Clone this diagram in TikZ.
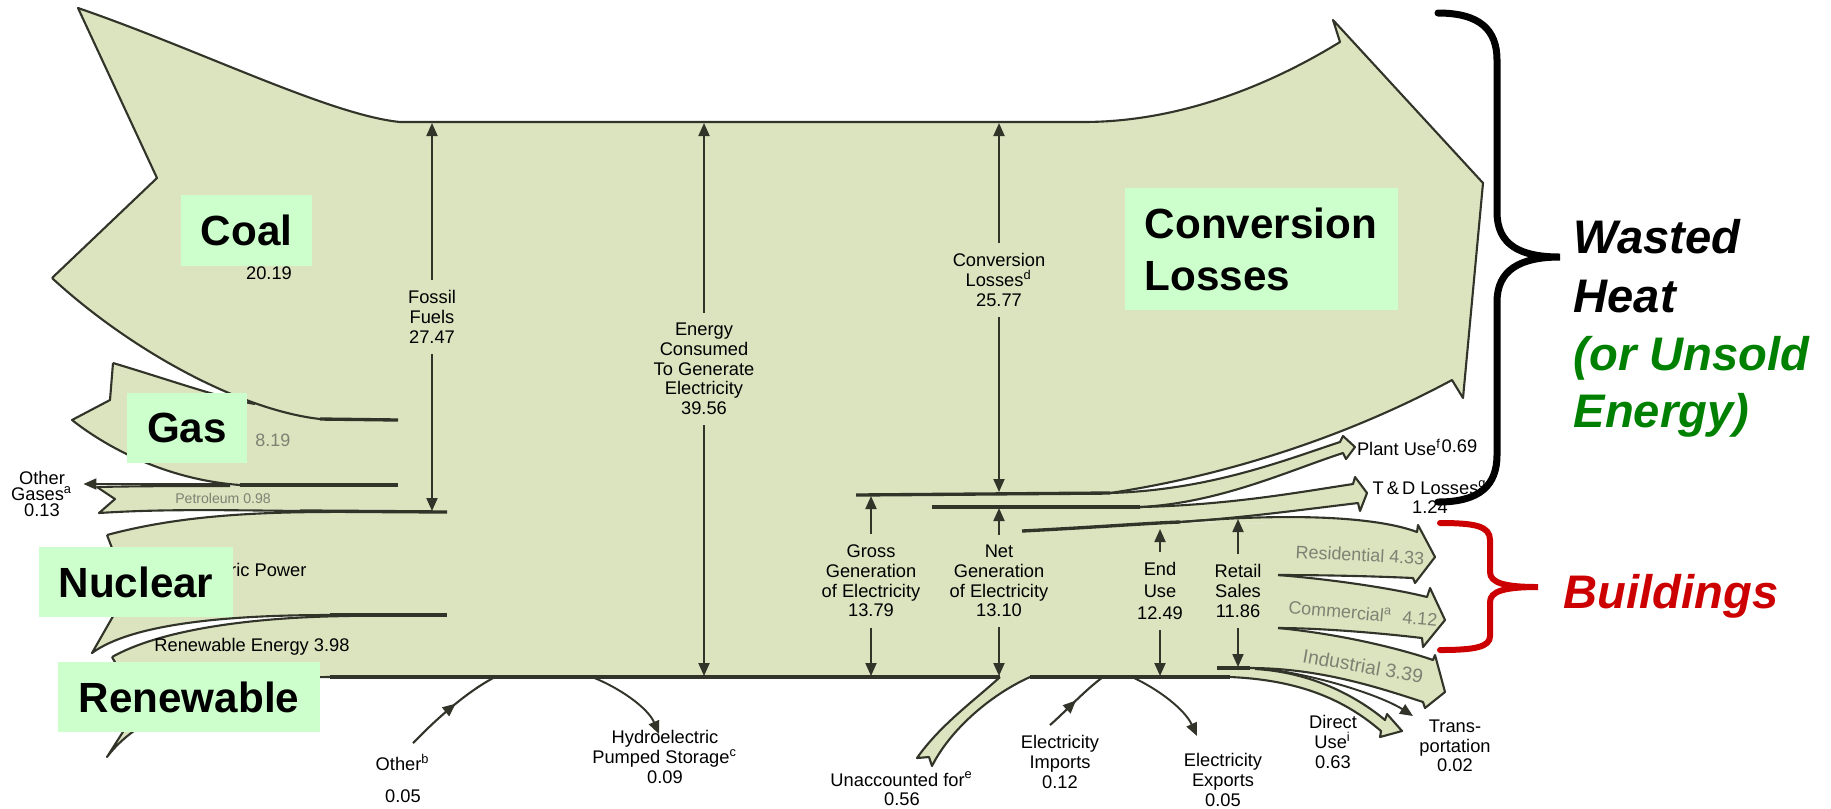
\documentclass[tikz,border=0pt]{standalone}
\usepackage{fontspec}
\setmainfont{Liberation Sans}
\usetikzlibrary{arrows.meta,decorations.markings}
\definecolor{flow}{RGB}{219,227,191}
\definecolor{lblbg}{RGB}{204,255,204}
\definecolor{edgec}{RGB}{50,52,42}
\definecolor{txtg}{RGB}{125,130,115}
\definecolor{bred}{RGB}{204,0,0}
\definecolor{bgreen}{RGB}{0,128,0}
\begin{document}
\begin{tikzpicture}[x=0.01cm,y=-0.01cm,
  edge/.style={draw=edgec,line width=0.6pt,line join=round},
  divider/.style={draw=edgec,line width=0.95pt},
  arr/.style={draw=edgec,line width=0.55pt,-{Triangle[length=1.3mm,width=1.1mm]}},
  midarr/.style={postaction={decorate},decoration={markings,mark=at position #1 with {\arrow{Triangle[length=1.3mm,width=1.1mm]}}}},
  small/.style={font=\fontsize{5.2}{5.6}\selectfont,align=center,inner sep=0pt,outer sep=3pt,text=black},
  tiny/.style={font=\fontsize{4}{4.5}\selectfont,inner sep=0pt,text=txtg},
  greyl/.style={font=\fontsize{5.1}{5.6}\selectfont,inner sep=0pt,text=txtg},
  lbl/.style={fill=lblbg,font=\fontsize{12}{14.8}\selectfont\bfseries,inner sep=0pt},
  big/.style={font=\fontsize{13.4}{16}\selectfont\bfseries\itshape,inner sep=0pt,anchor=base west}
]
\useasboundingbox (0,0) rectangle (1831,808);
\coordinate (ytop) at (0,123);
\coordinate (ybot) at (0,676);

% ---------------- fills ----------------
\fill[flow] (78,8) .. controls (200,50) and (330,115) .. (400,122) -- (400,421) -- (320,419) .. controls (240,410) and (130,350) .. (52,278) -- (157,178) -- cycle;
\fill[flow] (113,363) -- (110,400) -- (72,420) .. controls (110,450) and (170,480) .. (240,485) -- (400,485) -- (400,415) -- (320,419) -- (255,404) .. controls (220,398) and (170,380) .. (113,363) -- cycle;
\fill[flow] (97,487) .. controls (140,486) and (180,486) .. (230,486) -- (400,486) -- (400,512) -- (300,511) .. controls (220,510) and (160,509) .. (99,513) -- (115,499) -- cycle;
\fill[flow] (107,535) .. controls (170,518) and (240,512) .. (330,512) -- (400,512) -- (400,615) -- (330,615) .. controls (220,615) and (130,625) .. (92,653) -- (128,590) -- cycle;
\fill[flow] (112,657) .. controls (160,630) and (250,617) .. (350,616) -- (400,616) -- (400,677) -- (330,677) .. controls (230,677) and (140,712) .. (107,757) -- (140,705) -- cycle;
\fill[flow] (380,122) -- (1110,122) -- (1110,493) -- (1180,522) -- (1282,524) -- (1282,677) -- (380,677) -- cycle;
\fill[flow] (1000,122) -- (1083,122) .. controls (1180,122) and (1270,85) .. (1340,42) -- (1333,20) -- (1483,183) -- (1463,398) -- (1452,380) .. controls (1350,435) and (1230,475) .. (1110,493) -- (1000,493) -- cycle;
\fill[flow] (1110,493) .. controls (1210,490) and (1285,460) .. (1340,442) -- (1343,436) -- (1355,447) -- (1346,459) -- (1343,453) .. controls (1290,470) and (1220,503) .. (1140,507) -- cycle;
\fill[flow] (1140,507) .. controls (1230,505) and (1300,492) .. (1353,484) -- (1355,477) -- (1367,493) -- (1360,511) -- (1358,503) .. controls (1300,510) and (1240,518) .. (1180,522) -- cycle;
\fill[flow] (1180,522) .. controls (1300,512) and (1380,518) .. (1417,532) -- (1418,525) -- (1435,557) -- (1415,583) -- (1413,578) .. controls (1370,576) and (1320,575) .. (1278,575) -- (1278,524) -- cycle;
\fill[flow] (1278,575) .. controls (1340,580) and (1400,590) .. (1427,597) -- (1430,588) -- (1445,620) -- (1423,647) -- (1422,638) .. controls (1380,633) and (1320,628) .. (1278,628) -- cycle;
\fill[flow] (1278,628) .. controls (1350,635) and (1410,652) .. (1433,660) -- (1435,655) -- (1445,692) -- (1425,708) -- (1423,702) .. controls (1380,688) and (1320,668) .. (1250,668) -- (1250,628) -- cycle;
\fill[flow] (1255,669) .. controls (1310,672) and (1355,695) .. (1385,720) -- (1387,714) -- (1402,731) -- (1380,737) -- (1381,731) .. controls (1345,700) and (1300,680) .. (1230,677) -- cycle;
\fill[flow] (1000,677) .. controls (975,700) and (940,725) .. (917,758) -- (929,757) -- (932,766) .. controls (950,730) and (990,695) .. (1030,677) -- cycle;

% label partly hidden under the Nuclear box
\node[small,anchor=east] (nep) at (317,570) {Nuclear Electric Power};

% ---------------- edges ----------------
\draw[edge] (52,278) -- (157,178) -- (78,8) .. controls (200,50) and (330,115) .. (400,122) -- (1083,122) .. controls (1180,122) and (1270,85) .. (1340,42) -- (1333,20) -- (1483,183) -- (1463,398) -- (1452,380) .. controls (1350,435) and (1230,475) .. (1110,493);
\draw[edge] (52,278) .. controls (130,350) and (240,410) .. (320,419);
\draw[divider] (320,419) -- (398,420);
\draw[edge] (113,363) .. controls (170,380) and (220,398) .. (255,404);
\draw[edge] (113,363) -- (110,400) -- (72,420) .. controls (110,450) and (170,480) .. (240,485);
\draw[divider] (240,485) -- (398,485);
\draw[edge] (230,486) .. controls (180,486) and (140,486) .. (97,487) -- (115,499) -- (99,513) .. controls (160,509) and (220,510) .. (300,511);
\draw[divider] (300,511) -- (447,512);
\draw[edge] (107,535) .. controls (170,518) and (240,512) .. (330,512);
\draw[edge] (107,535) -- (128,590) -- (92,653) .. controls (130,625) and (220,615) .. (330,615);
\draw[divider] (330,615) -- (447,615);
\draw[edge] (112,657) .. controls (160,630) and (250,617) .. (350,616);
\draw[edge] (112,657) -- (140,705) -- (107,757) .. controls (140,712) and (230,677) .. (330,677);
\draw[divider] (330,677) -- (1000,677);
\draw[divider] (1030,677) -- (1230,677);
% right side
\draw[divider] (856,495) -- (1110,493);
\draw[edge] (1110,493) .. controls (1210,490) and (1285,460) .. (1340,442) -- (1343,436) -- (1355,447) -- (1346,459) -- (1343,453) .. controls (1290,470) and (1220,503) .. (1140,507);
\draw[divider] (932,507) -- (1140,507);
\draw[edge] (1140,507) .. controls (1230,505) and (1300,492) .. (1353,484) -- (1355,477) -- (1367,493) -- (1360,511) -- (1358,503) .. controls (1300,510) and (1240,518) .. (1180,522);
\draw[edge] (1180,522) .. controls (1300,512) and (1380,518) .. (1417,532) -- (1418,525) -- (1435,557) -- (1415,583) -- (1413,578) .. controls (1370,576) and (1320,575) .. (1278,575);
\draw[divider] (1022,531) .. controls (1100,527) and (1150,523) .. (1180,522);
\draw[edge] (1278,575) .. controls (1340,580) and (1400,590) .. (1427,597) -- (1430,588) -- (1445,620) -- (1423,647) -- (1422,638) .. controls (1380,633) and (1320,628) .. (1278,628);
\draw[edge] (1278,628) .. controls (1350,635) and (1410,652) .. (1433,660) -- (1435,655) -- (1445,692) -- (1425,708) -- (1423,702) .. controls (1380,688) and (1320,668) .. (1250,668);
\draw[divider] (1217,668) -- (1250,668);
\draw[edge] (1255,669) .. controls (1310,672) and (1355,695) .. (1385,720) -- (1387,714) -- (1402,731) -- (1380,737) -- (1381,731) .. controls (1345,700) and (1300,680) .. (1230,677);
\draw[edge] (1000,677) .. controls (975,700) and (940,725) .. (917,758) -- (929,757) -- (932,766) .. controls (950,730) and (990,695) .. (1030,677);

% ---------------- texts ----------------
\node[small] (coalv) at (269,273) {20.19};
\node[greyl,anchor=east] (gasv) at (291,440) {8.19};
\node[tiny] (petro) at (223,498) {Petroleum 0.98};
\node[small] (renv) at (252,647) {Renewable Energy 3.98};
\node[small,font=\fontsize{5.2}{4.6}\selectfont] (ogas) at (42,494) {Other\\Gases\textsuperscript{a}\\0.13};
\node[small] (ff) at (432,317) {Fossil\\Fuels\\27.47};
\node[small] (ec) at (704,369) {Energy\\Consumed\\To Generate\\Electricity\\39.56};
\node[small] (cl) at (999,280) {Conversion\\Losses\textsuperscript{d}\\25.77};
\node[small] (gg) at (871,581) {Gross\\Generation\\of Electricity\\13.79};
\node[small] (ng) at (999,581) {Net\\Generation\\of Electricity\\13.10};
\node[small,font=\fontsize{5.2}{6.2}\selectfont] (eu) at (1160,591) {End\\Use\\12.49};
\node[small] (rs) at (1238,591) {Retail\\Sales\\11.86};
\node[small,anchor=west,inner sep=0pt,outer sep=0pt] (pu) at (1357,447) {Plant Use\textsuperscript{f}\raisebox{0.3ex}{0.69}};
\node[small] (td) at (1430,497) {T\,\&\,D Losses\textsuperscript{g}\\1.24};
\node[greyl,rotate=-3] (res) at (1360,555) {Residential 4.33};
\node[greyl,rotate=-5] (com) at (1363,613) {Commercial\textsuperscript{a}\ \ 4.12};
\node[greyl,rotate=-10,font=\fontsize{5.5}{6}\selectfont] (ind) at (1363,666) {Industrial 3.39};
\node[small] (du) at (1333,742) {Direct\\Use\textsuperscript{i}\\0.63};
\node[small] (tr) at (1455,746) {Trans-\\portation\\0.02};
\node[small] (imp) at (1060,762) {Electricity\\Imports\\0.12};
\node[small] (exp) at (1223,780) {Electricity\\Exports\\0.05};
\node[small] (otb) at (403,778) {Other\textsuperscript{b}\\[3.5pt]0.05};
\node[small] (hyd) at (665,757) {Hydroelectric\\Pumped Storage\textsuperscript{c}\\0.09};
\node[small] (una) at (902,789) {Unaccounted for\textsuperscript{e}\\0.56};

% ---------------- connectors ----------------
\coordinate (ogE) at (232,484);
\draw[arr] (ogE) -- (ogas.east |- ogE);
\draw[arr] (ff.north) -- (ff.north |- ytop);
\draw[arr] (ff.south) -- (432,511);
\draw[arr] (ec.north) -- (ec.north |- ytop);
\draw[arr] (ec.south) -- (ec.south |- ybot);
\draw[arr] (cl.north) -- (cl.north |- ytop);
\draw[arr] (cl.south) -- (999,492);
\draw[arr] (gg.north) -- (871,496);
\draw[arr] (gg.south) -- (gg.south |- ybot);
\draw[arr] (ng.north) -- (999,508);
\draw[arr] (ng.south) -- (ng.south |- ybot);
\draw[arr] (eu.north) -- (1160,529);
\draw[arr] (eu.south) -- (eu.south |- ybot);
\draw[arr] (rs.north) -- (1238,519);
\draw[arr] (rs.south) -- (1238,667);
\coordinate (otbE) at (495,677);
\coordinate (hydS) at (592,677);
\coordinate (hydE) at (659,734);
\coordinate (impE) at (1103,677);
\coordinate (expS) at (1132,677);
\coordinate (expE) at (1197,736);
\coordinate (trS) at (1268,669);
\coordinate (trE) at (1413,716);
\draw[edge,midarr=0.55] ([xshift=0.1cm]otb.north) .. controls (440,715) and (470,690) .. (otbE);
\draw[arr] (hydS) .. controls (620,688) and (648,708) .. (hydE);
\draw[edge,midarr=0.5] ([xshift=-0.1cm]imp.north) .. controls (1065,712) and (1085,690) .. (impE);
\draw[arr] (expS) .. controls (1160,690) and (1185,710) .. (expE);
\draw[arr] (trS) .. controls (1330,678) and (1385,698) .. (trE);

% ---------------- label boxes ----------------
\node[lbl,minimum width=1.31cm,minimum height=0.71cm] (coal) at (246.5,230.5) {Coal};
\node[lbl,minimum width=1.2cm,minimum height=0.7cm] (gas) at (187,428) {Gas};
\node[lbl,minimum width=1.94cm,minimum height=0.7cm] (nuc) at (136,582) {Nuclear};
\node[lbl,minimum width=2.62cm,minimum height=0.7cm] (ren) at (189,697) {Renewable};
\node[lbl,minimum width=2.73cm,minimum height=1.22cm,align=left,text width=2.33cm] (conv) at (1261.5,249) {Conversion\\Losses};

% ---------------- braces ----------------
\draw[line width=0.7mm,black,line cap=round] (1438,13) .. controls (1480,13) and (1497,30) .. (1497,60) -- (1497,212) .. controls (1497,245) and (1520,257) .. (1560,257) .. controls (1520,257) and (1497,270) .. (1497,302) -- (1497,455) .. controls (1497,485) and (1480,502) .. (1438,502);
\draw[line width=0.6mm,bred,line cap=round] (1440,523) .. controls (1475,523) and (1490,526) .. (1490,540) -- (1490,572) .. controls (1490,583) and (1505,587) .. (1538,587) .. controls (1505,587) and (1490,591) .. (1490,602) -- (1490,636) .. controls (1490,647) and (1475,650) .. (1440,650);
\node[big] (w1) at (1573,253) {Wasted};
\node[big] (w2) at (1573,312) {Heat};
\node[big,text=bgreen] (w3) at (1573,370) {(or Unsold};
\node[big,text=bgreen] (w4) at (1573,427) {Energy)};
\node[big,text=bred] (bld) at (1563,608) {Buildings};
\end{tikzpicture}
\end{document}
